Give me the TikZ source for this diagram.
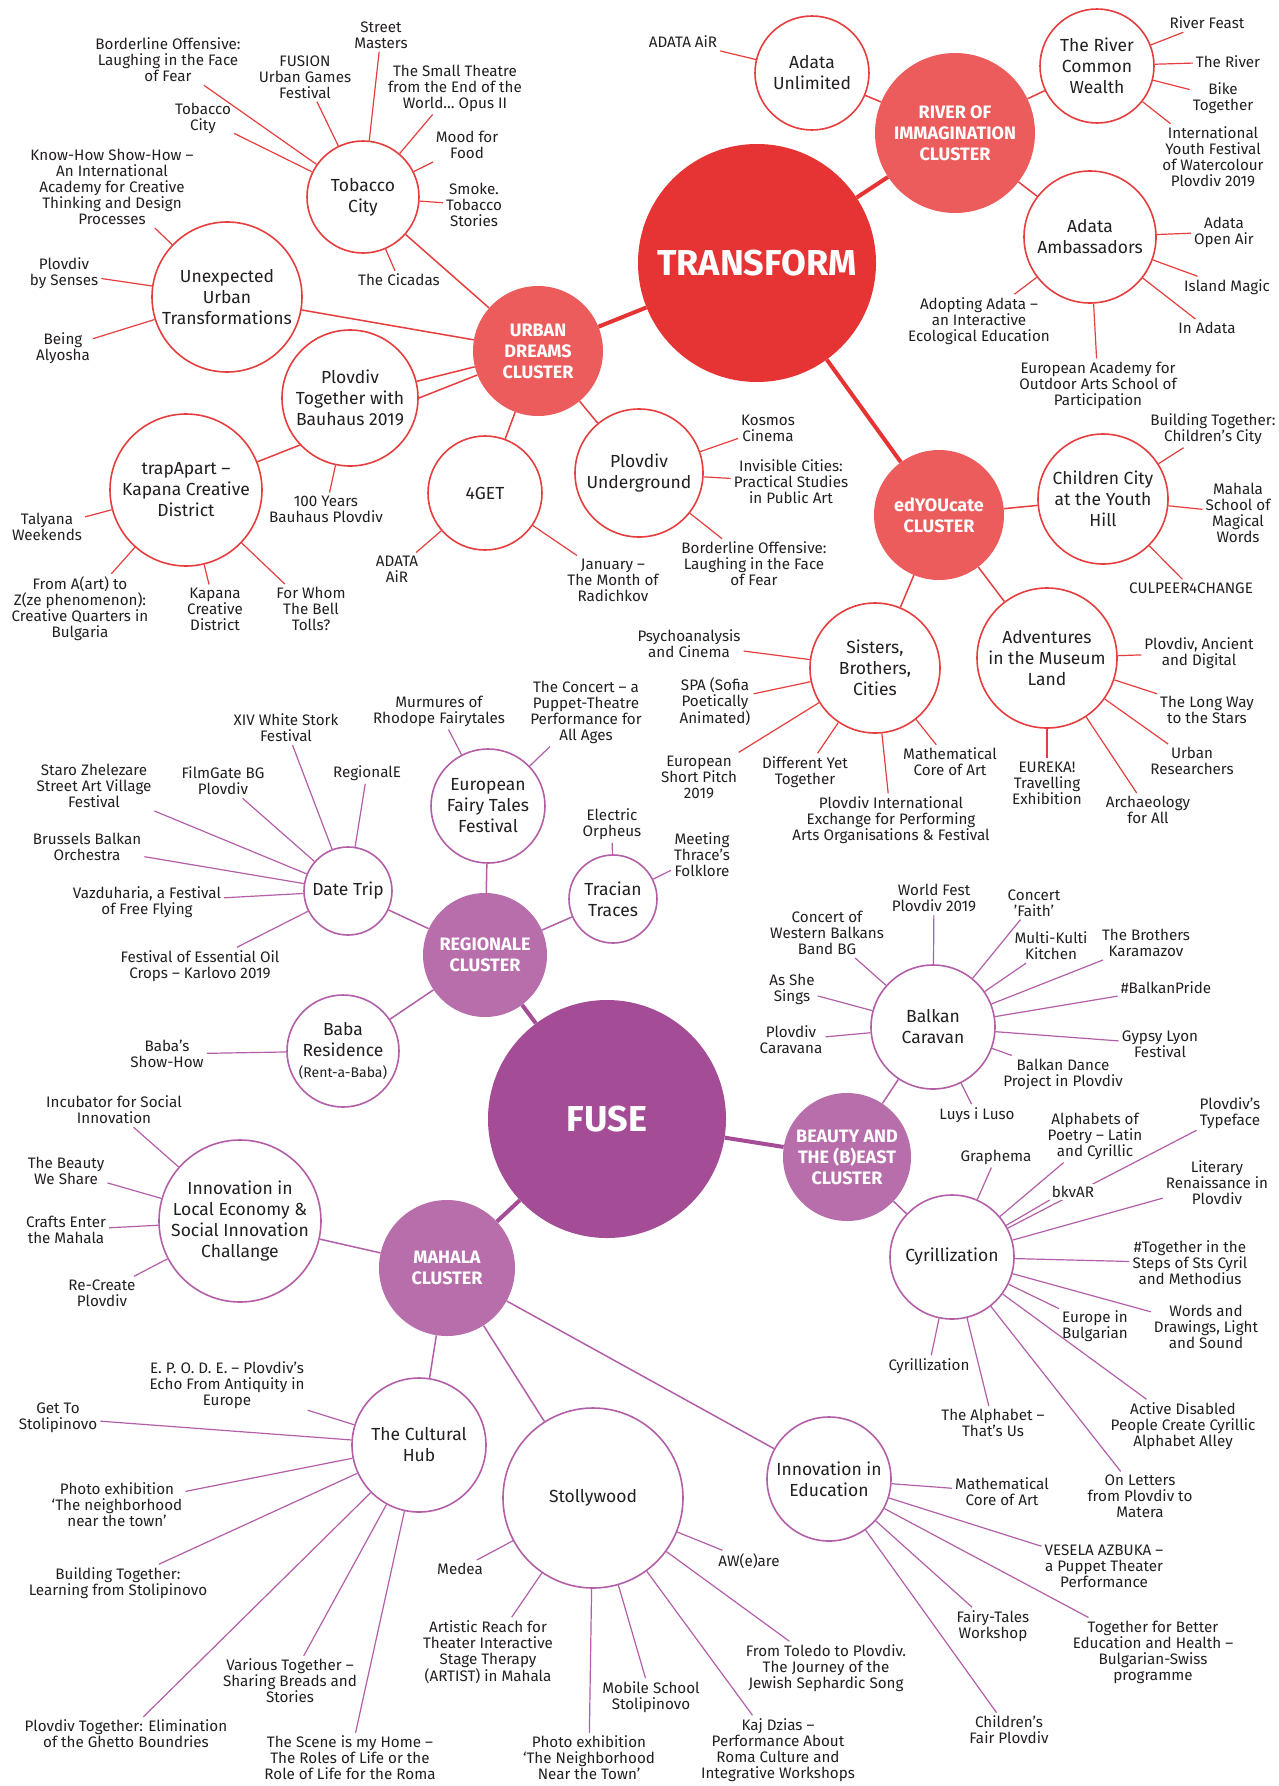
\documentclass[tikz,border=0pt]{standalone}
\usepackage{fontspec}
\setmainfont{Fira Sans}
\usetikzlibrary{backgrounds}

\definecolor{hubred}{HTML}{E53433}
\definecolor{clusred}{HTML}{EC5C5C}
\definecolor{linered}{HTML}{E63E3E}
\definecolor{hubpurple}{HTML}{A54C97}
\definecolor{cluspurple}{HTML}{B86EAB}
\definecolor{linepurple}{HTML}{B35FA8}
\definecolor{ink}{HTML}{231F20}

\newcommand{\hubfont}{\fontsize{36}{40}\selectfont\bfseries}
\newcommand{\clusfont}{\fontsize{18}{21}\selectfont\bfseries}
\newcommand{\projfont}{\fontsize{17.5}{21}\selectfont}
\newcommand{\itemfont}{\fontsize{15.2}{16}\selectfont}

\begin{document}
\begin{tikzpicture}[x=1pt, y=-1pt,
  rad/.style={minimum size=2*#1pt},
  hubR/.style={circle, fill=hubred, text=white, font=\hubfont, inner sep=0pt},
  hubP/.style={circle, fill=hubpurple, text=white, font=\hubfont, inner sep=0pt},
  clusR/.style={circle, fill=clusred, text=white, font=\clusfont, align=center, inner sep=0pt},
  clusP/.style={circle, fill=cluspurple, text=white, font=\clusfont, align=center, inner sep=0pt},
  projR/.style={circle, draw=linered, line width=1.6pt, fill=white, text=ink, font=\projfont, align=center, inner sep=0pt},
  projP/.style={circle, draw=linepurple, line width=1.6pt, fill=white, text=ink, font=\projfont, align=center, inner sep=0pt},
  item/.style={text=ink, font=\itemfont, align=center, inner sep=3pt},
  trunkR/.style={draw=hubred, line width=4pt},
  trunkP/.style={draw=hubpurple, line width=4pt},
  branchR/.style={draw=linered, line width=1.5pt},
  branchP/.style={draw=linepurple, line width=1.5pt},
  spokeR/.style={draw=linered, line width=1.2pt},
  spokeP/.style={draw=linepurple, line width=1.2pt}]
  \useasboundingbox (0,0) rectangle (1278,1786);

  % TRANSFORM
  \node[hubR, rad=119] (transform) at (757, 263) {TRANSFORM};
  \node[clusR, rad=65] (urban)   at (538, 351) {URBAN\\DREAMS\\CLUSTER};
  \node[clusR, rad=80] (river)   at (955, 133) {RIVER OF\\IMMAGINATION\\CLUSTER};
  \node[clusR, rad=65] (educate) at (939, 515) {edYOUcate\\CLUSTER};

  \node[projR, rad=56] (tobacco)     at (363, 197) {Tobacco\\City};
  \node[projR, rad=75] (unexp)       at (227, 297) {Unexpected\\Urban\\Transformations};
  \node[projR, rad=68] (bauhaus)     at (350, 398) {Plovdiv\\Together with\\Bauhaus 2019};
  \node[projR, rad=76] (trap)        at (186, 490) {trapApart –\\Kapana Creative\\District};
  \node[projR, rad=57] (fourget)     at (485, 493) {4GET};
  \node[projR, rad=64] (underground) at (639, 473) {Plovdiv\\Underground};
  \node[projR, rad=57] (adataun)     at (812, 73)  {Adata\\Unlimited};
  \node[projR, rad=57] (rivercw)     at (1097, 66) {The River\\Common\\Wealth};
  \node[projR, rad=66] (adataamb)    at (1090, 237) {Adata\\Ambassadors};
  \node[projR, rad=65] (children)    at (1103, 499) {Children City\\at the Youth\\Hill};
  \node[projR, rad=65] (sisters)     at (875, 668) {Sisters,\\Brothers,\\Cities};
  \node[projR, rad=70] (museum)      at (1047, 658) {Adventures\\in the Museum\\Land};

  \node[item] (tc_street)  at (381, 35)  {Street\\Masters};
  \node[item] (tc_fusion)  at (305, 77)  {FUSION\\Urban Games\\Festival};
  \node[item] (tc_border)  at (168, 60)  {Borderline Offensive:\\Laughing in the Face\\of Fear};
  \node[item] (tc_city)    at (203, 118) {Tobacco\\City};
  \node[item] (tc_theatre) at (455, 88)  {The Small Theatre\\from the End of the\\World… Opus II};
  \node[item] (tc_mood)    at (467, 145) {Mood for\\Food};
  \node[item] (tc_smoke)   at (474, 205) {Smoke.\\Tobacco\\Stories};
  \node[item] (tc_cicadas) at (399, 280) {The Cicadas};
  \node[item] (uu_knowhow) at (112, 187) {Know-How Show-How –\\An International\\Academy for Creative\\Thinking and Design\\Processes};
  \node[item] (uu_senses)  at (64, 273)  {Plovdiv\\by Senses};
  \node[item] (uu_alyosha) at (63, 348)  {Being\\Alyosha};
  \node[item] (bh_years)   at (326, 509) {100 Years\\Bauhaus Plovdiv};
  \node[item] (tr_talyana) at (47, 527)  {Talyana\\Weekends};
  \node[item] (tr_atoz)    at (80, 609)  {From A(art) to\\Z(ze phenomenon):\\Creative Quarters in\\Bulgaria};
  \node[item] (tr_kapana)  at (215, 609) {Kapana\\Creative\\District};
  \node[item] (tr_bell)    at (311, 609) {For Whom\\The Bell\\Tolls?};
  \node[item] (fg_air)     at (397, 569) {ADATA\\AiR};
  \node[item] (fg_january) at (613, 580) {January –\\The Month of\\Radichkov};
  \node[item] (ug_kosmos)  at (768, 428) {Kosmos\\Cinema};
  \node[item] (ug_cities)  at (791, 482) {Invisible Cities:\\Practical Studies\\in Public Art};
  \node[item] (ug_border)  at (754, 564) {Borderline Offensive:\\Laughing in the Face\\of Fear};
  \node[item] (au_air)     at (683, 42)  {ADATA AiR};
  \node[item] (rc_feast)   at (1207, 23) {River Feast};
  \node[item] (rc_river)   at (1228, 62) {The River};
  \node[item] (rc_bike)    at (1223, 98) {Bike\\Together};
  \node[item] (rc_youth)   at (1213, 157) {International\\Youth Festival\\of Watercolour\\Plovdiv 2019};
  \node[item] (aa_open)    at (1224, 232) {Adata\\Open Air};
  \node[item] (aa_island)  at (1227, 287) {Island Magic};
  \node[item] (aa_in)      at (1207, 328) {In Adata};
  \node[item] (aa_academy) at (1098, 385) {European Academy for\\Outdoor Arts School of\\Participation};
  \node[item] (aa_adopt)   at (979, 321) {Adopting Adata –\\an Interactive\\Ecological Education};
  \node[item] (cc_build)   at (1213, 429) {Building Together:\\Children's City};
  \node[item] (cc_mahala)  at (1238, 513) {Mahala\\School of\\Magical\\Words};
  \node[item] (cc_culpeer) at (1191, 588) {CULPEER4CHANGE};
  \node[item] (sb_psycho)  at (689, 644) {Psychoanalysis\\and Cinema};
  \node[item] (sb_spa)     at (715, 702) {SPA (Sofia\\Poetically\\Animated)};
  \node[item] (sb_pitch)   at (699, 777) {European\\Short Pitch\\2019};
  \node[item] (sb_diff)    at (805, 772) {Different Yet\\Together};
  \node[item] (sb_exch)    at (891, 820) {Plovdiv International\\Exchange for Performing\\Arts Organisations \& Festival};
  \node[item] (sb_math)    at (950, 762) {Mathematical\\Core of Art};
  \node[item] (ml_ancient) at (1199, 653) {Plovdiv, Ancient\\and Digital};
  \node[item] (ml_stars)   at (1207, 710) {The Long Way\\to the Stars};
  \node[item] (ml_urban)   at (1192, 761) {Urban\\Researchers};
  \node[item] (ml_arch)    at (1148, 810) {Archaeology\\for All};
  \node[item] (ml_eureka)  at (1047, 783) {EUREKA!\\Travelling\\Exhibition};

  % FUSE
  \node[hubP, rad=119] (fuse) at (607, 1119) {FUSE};
  \node[clusP, rad=62] (regionale) at (485, 955)  {REGIONALE\\CLUSTER};
  \node[clusP, rad=64] (beauty)    at (847, 1157) {BEAUTY AND\\THE (B)EAST\\CLUSTER};
  \node[clusP, rad=68] (mahala)    at (447, 1268) {MAHALA\\CLUSTER};

  \node[projP, rad=44] (datetrip) at (348, 891)  {Date Trip};
  \node[projP, rad=57] (fairy)    at (488, 806)  {European\\Fairy Tales\\Festival};
  \node[projP, rad=44] (tracian)  at (613, 899)  {Tracian\\Traces};
  \node[projP, rad=56] (baba)     at (343, 1051) {Baba\\Residence\\{\fontsize{14}{16}\selectfont(Rent-a-Baba)}};
  \node[projP, rad=62] (balkan)   at (933, 1027) {Balkan\\Caravan};
  \node[projP, rad=62] (cyril)    at (952, 1257) {Cyrillization};
  \node[projP, rad=81] (localeco) at (240, 1221) {Innovation in\\Local Economy \&\\Social Innovation\\Challange};
  \node[projP, rad=67] (hub)      at (419, 1445) {The Cultural\\Hub};
  \node[projP, rad=90] (stolly)   at (593, 1498) {Stollywood};
  \node[projP, rad=62] (innoedu)  at (829, 1479) {Innovation in\\Education};

  \node[item] (dt_stork)   at (286, 728) {XIV White Stork\\Festival};
  \node[item] (dt_regio)   at (367, 773) {RegionalE};
  \node[item] (dt_film)    at (223, 781) {FilmGate BG\\Plovdiv};
  \node[item] (dt_staro)   at (94, 786)  {Staro Zhelezare\\Street Art Village\\Festival};
  \node[item] (dt_brussel) at (87, 847)  {Brussels Balkan\\Orchestra};
  \node[item] (dt_vazdu)   at (147, 902) {Vazduharia, a Festival\\of Free Flying};
  \node[item] (dt_oil)     at (200, 966) {Festival of Essential Oil\\Crops – Karlovo 2019};
  \node[item] (ft_murmur)  at (439, 711) {Murmures of\\Rhodope Fairytales};
  \node[item] (ft_concert) at (586, 712) {The Concert – a\\Puppet-Theatre\\Performance for\\All Ages};
  \node[item] (tt_orpheus) at (612, 824) {Electric\\Orpheus};
  \node[item] (tt_thrace)  at (702, 855) {Meeting\\Thrace's\\Folklore};
  \node[item] (bb_show)    at (167, 1054) {Baba's\\Show-How};
  \node[item] (bc_western) at (827, 933) {Concert of\\Western Balkans\\Band BG};
  \node[item] (bc_world)   at (934, 898) {World Fest\\Plovdiv 2019};
  \node[item] (bc_faith)   at (1034, 903) {Concert\\'Faith'};
  \node[item] (bc_kulti)   at (1051, 946) {Multi-Kulti\\Kitchen};
  \node[item] (bc_brother) at (1146, 943) {The Brothers\\Karamazov};
  \node[item] (bc_pride)   at (1166, 988) {\#BalkanPride};
  \node[item] (bc_gypsy)   at (1160, 1044) {Gypsy Lyon\\Festival};
  \node[item] (bc_dance)   at (1063, 1074) {Balkan Dance\\Project in Plovdiv};
  \node[item] (bc_luys)    at (977, 1115) {Luys i Luso};
  \node[item] (bc_sings)   at (792, 989)  {As She\\Sings};
  \node[item] (bc_caravan) at (791, 1040) {Plovdiv\\Caravana};
  \node[item] (cy_graph)   at (996, 1157) {Graphema};
  \node[item] (cy_poetry)  at (1095, 1136) {Alphabets of\\Poetry – Latin\\and Cyrillic};
  \node[item, fill=white, inner sep=2pt] (cy_bkvar) at (1073, 1192) {bkvAR};
  \node[item] (cy_type)    at (1230, 1113) {Plovdiv's\\Typeface};
  \node[item] (cy_literary) at (1217, 1183) {Literary\\Renaissance in\\Plovdiv};
  \node[item] (cy_steps)   at (1190, 1263) {\#Together in the\\Steps of Sts Cyril\\and Methodius};
  \node[item] (cy_words)   at (1206, 1327) {Words and\\Drawings, Light\\and Sound};
  \node[item] (cy_europe)  at (1095, 1326) {Europe in\\Bulgarian};
  \node[item] (cy_active)  at (1183, 1426) {Active Disabled\\People Create Cyrillic\\Alphabet Alley};
  \node[item] (cy_letters) at (1140, 1496) {On Letters\\from Plovdiv to\\Matera};
  \node[item] (cy_thatsus) at (993, 1423) {The Alphabet –\\That's Us};
  \node[item] (cy_cyril)   at (929, 1366) {Cyrillization};
  \node[item] (le_incub)   at (114, 1110) {Incubator for Social\\Innovation};
  \node[item] (le_beauty)  at (66, 1171)  {The Beauty\\We Share};
  \node[item] (le_crafts)  at (66, 1230)  {Crafts Enter\\the Mahala};
  \node[item] (le_create)  at (102, 1293) {Re-Create\\Plovdiv};
  \node[item] (ch_epode)   at (227, 1385) {E. P. O. D. E. – Plovdiv's\\Echo From Antiquity in\\Europe};
  \node[item] (ch_getto)   at (58, 1418)  {Get To\\Stolipinovo};
  \node[item] (ch_photo)   at (117, 1505) {Photo exhibition\\‘The neighborhood\\near the town’};
  \node[item] (ch_build)   at (118, 1583) {Building Together:\\Learning from Stolipinovo};
  \node[item] (ch_various) at (290, 1681) {Various Together –\\Sharing Breads and\\Stories};
  \node[item] (ch_ghetto)  at (126, 1734) {Plovdiv Together: Elimination\\of the Ghetto Boundries};
  \node[item] (ch_scene)   at (350, 1758) {The Scene is my Home –\\The Roles of Life or the\\Role of Life for the Roma};
  \node[item] (sw_medea)   at (460, 1569) {Medea};
  \node[item] (sw_artist)  at (488, 1652) {Artistic Reach for\\Theater Interactive\\Stage Therapy\\(ARTIST) in Mahala};
  \node[item] (sw_photo)   at (589, 1758) {Photo exhibition\\‘The Neighborhood\\Near the Town’};
  \node[item] (sw_mobile)  at (651, 1697) {Mobile School\\Stolipinovo};
  \node[item] (sw_kaj)     at (778, 1750) {Kaj Dzias –\\Performance About\\Roma Culture and\\Integrative Workshops};
  \node[item] (sw_toledo)  at (826, 1668) {From Toledo to Plovdiv.\\The Journey of the\\Jewish Sephardic Song};
  \node[item] (sw_aware)   at (749, 1561) {AW(e)are};
  \node[item] (ie_math)    at (1002, 1492) {Mathematical\\Core of Art};
  \node[item] (ie_vesela)  at (1104, 1566) {VESELA AZBUKA –\\a Puppet Theater\\Performance};
  \node[item] (ie_better)  at (1153, 1652) {Together for Better\\Education and Health –\\Bulgarian-Swiss\\programme};
  \node[item] (ie_fairy)   at (993, 1626) {Fairy-Tales\\Workshop};
  \node[item] (ie_fair)    at (1009, 1730) {Children's\\Fair Plovdiv};

  \begin{pgfonlayer}{background}
    \fill[white] (0,0) rectangle (1278,1786);

    % TRANSFORM links
    \draw[trunkR] (transform) -- (urban);
    \draw[trunkR] (transform) -- (river);
    \draw[trunkR] (transform) -- (educate);
    \draw[branchR] (urban) -- (tobacco);
    \draw[branchR] (urban) -- (unexp);
    \draw[branchR] (urban) -- (bauhaus);
    \draw[branchR] (urban) -- (trap);
    \draw[branchR] (urban) -- (fourget);
    \draw[branchR] (urban) -- (underground);
    \draw[branchR] (river) -- (adataun);
    \draw[branchR] (river) -- (rivercw);
    \draw[branchR] (river) -- (adataamb);
    \draw[branchR] (educate) -- (children);
    \draw[branchR] (educate) -- (sisters);
    \draw[branchR] (educate) -- (museum);

    \draw[spokeR] (tobacco) -- (tc_street);
    \draw[spokeR] (tobacco) -- (tc_fusion);
    \draw[spokeR] (tobacco) -- (tc_border);
    \draw[spokeR] (tobacco) -- (tc_city);
    \draw[spokeR] (tobacco) -- (tc_theatre);
    \draw[spokeR] (tobacco) -- (tc_mood);
    \draw[spokeR] (tobacco) -- (tc_smoke);
    \draw[spokeR] (tobacco) -- (tc_cicadas);
    \draw[spokeR] (unexp) -- (uu_knowhow);
    \draw[spokeR] (unexp) -- (uu_senses);
    \draw[spokeR] (unexp) -- (uu_alyosha);
    \draw[spokeR] (bauhaus) -- (bh_years);
    \draw[spokeR] (trap) -- (tr_talyana);
    \draw[spokeR] (trap) -- (tr_atoz);
    \draw[spokeR] (trap) -- (tr_kapana);
    \draw[spokeR] (trap) -- (tr_bell);
    \draw[spokeR] (fourget) -- (fg_air);
    \draw[spokeR] (fourget) -- (fg_january);
    \draw[spokeR] (underground) -- (ug_kosmos);
    \draw[spokeR] (underground) -- (ug_cities);
    \draw[spokeR] (underground) -- (ug_border);
    \draw[spokeR] (adataun) -- (au_air);
    \draw[spokeR] (rivercw) -- (rc_feast);
    \draw[spokeR] (rivercw) -- (rc_river);
    \draw[spokeR] (rivercw) -- (rc_bike);
    \draw[spokeR] (rivercw) -- (rc_youth);
    \draw[spokeR] (adataamb) -- (aa_open);
    \draw[spokeR] (adataamb) -- (aa_island);
    \draw[spokeR] (adataamb) -- (aa_in);
    \draw[spokeR] (adataamb) -- (aa_academy);
    \draw[spokeR] (adataamb) -- (aa_adopt);
    \draw[spokeR] (children) -- (cc_build);
    \draw[spokeR] (children) -- (cc_mahala);
    \draw[spokeR] (children) -- (cc_culpeer);
    \draw[spokeR] (sisters) -- (sb_psycho);
    \draw[spokeR] (sisters) -- (sb_spa);
    \draw[spokeR] (sisters) -- (sb_pitch);
    \draw[spokeR] (sisters) -- (sb_diff);
    \draw[spokeR] (sisters) -- (sb_exch);
    \draw[spokeR] (sisters) -- (sb_math);
    \draw[spokeR] (museum) -- (ml_ancient);
    \draw[spokeR] (museum) -- (ml_stars);
    \draw[spokeR] (museum) -- (ml_urban);
    \draw[spokeR] (museum) -- (ml_arch);
    \draw[spokeR] (museum) -- (ml_eureka);

    % FUSE links
    \draw[trunkP] (fuse) -- (regionale);
    \draw[trunkP] (fuse) -- (beauty);
    \draw[trunkP] (fuse) -- (mahala);
    \draw[branchP] (regionale) -- (datetrip);
    \draw[branchP] (regionale) -- (fairy);
    \draw[branchP] (regionale) -- (tracian);
    \draw[branchP] (regionale) -- (baba);
    \draw[branchP] (beauty) -- (balkan);
    \draw[branchP] (beauty) -- (cyril);
    \draw[branchP] (mahala) -- (localeco);
    \draw[branchP] (mahala) -- (hub);
    \draw[branchP] (mahala) -- (stolly);
    \draw[branchP] (mahala) -- (innoedu);

    \draw[spokeP] (datetrip) -- (dt_stork);
    \draw[spokeP] (datetrip) -- (dt_regio);
    \draw[spokeP] (datetrip) -- (dt_film);
    \draw[spokeP] (datetrip) -- (dt_staro);
    \draw[spokeP] (datetrip) -- (dt_brussel);
    \draw[spokeP] (datetrip) -- (dt_vazdu);
    \draw[spokeP] (datetrip) -- (dt_oil);
    \draw[spokeP] (fairy) -- (ft_murmur);
    \draw[spokeP] (fairy) -- (ft_concert);
    \draw[spokeP] (tracian) -- (tt_orpheus);
    \draw[spokeP] (tracian) -- (tt_thrace);
    \draw[spokeP] (baba) -- (bb_show);
    \draw[spokeP] (balkan) -- (bc_western);
    \draw[spokeP] (balkan) -- (bc_world);
    \draw[spokeP] (balkan) -- (bc_faith);
    \draw[spokeP] (balkan) -- (bc_kulti);
    \draw[spokeP] (balkan) -- (bc_brother);
    \draw[spokeP] (balkan) -- (bc_pride);
    \draw[spokeP] (balkan) -- (bc_gypsy);
    \draw[spokeP] (balkan) -- (bc_dance);
    \draw[spokeP] (balkan) -- (bc_luys);
    \draw[spokeP] (balkan) -- (bc_sings);
    \draw[spokeP] (balkan) -- (bc_caravan);
    \draw[spokeP] (cyril) -- (cy_graph);
    \draw[spokeP] (cyril) -- (cy_poetry);
    \draw[spokeP] (cyril) -- (cy_bkvar.south west);
    \draw[spokeP] (cyril) -- (cy_type);
    \draw[spokeP] (cyril) -- (cy_literary);
    \draw[spokeP] (cyril) -- (cy_steps);
    \draw[spokeP] (cyril) -- (cy_words);
    \draw[spokeP] (cyril) -- (cy_europe);
    \draw[spokeP] (cyril) -- (cy_active);
    \draw[spokeP] (cyril) -- (cy_letters);
    \draw[spokeP] (cyril) -- (cy_thatsus);
    \draw[spokeP] (cyril) -- (cy_cyril);
    \draw[spokeP] (localeco) -- (le_incub);
    \draw[spokeP] (localeco) -- (le_beauty);
    \draw[spokeP] (localeco) -- (le_crafts);
    \draw[spokeP] (localeco) -- (le_create);
    \draw[spokeP] (hub) -- (ch_epode);
    \draw[spokeP] (hub) -- (ch_getto);
    \draw[spokeP] (hub) -- (ch_photo);
    \draw[spokeP] (hub) -- (ch_build);
    \draw[spokeP] (hub) -- (ch_various);
    \draw[spokeP] (hub) -- (ch_ghetto);
    \draw[spokeP] (hub) -- (ch_scene);
    \draw[spokeP] (stolly) -- (sw_medea);
    \draw[spokeP] (stolly) -- (sw_artist);
    \draw[spokeP] (stolly) -- (sw_photo);
    \draw[spokeP] (stolly) -- (sw_mobile);
    \draw[spokeP] (stolly) -- (sw_kaj);
    \draw[spokeP] (stolly) -- (sw_toledo);
    \draw[spokeP] (stolly) -- (sw_aware);
    \draw[spokeP] (innoedu) -- (ie_math);
    \draw[spokeP] (innoedu) -- (ie_vesela);
    \draw[spokeP] (innoedu) -- (ie_better);
    \draw[spokeP] (innoedu) -- (ie_fairy);
    \draw[spokeP] (innoedu) -- (ie_fair);
  \end{pgfonlayer}
\end{tikzpicture}
\end{document}
